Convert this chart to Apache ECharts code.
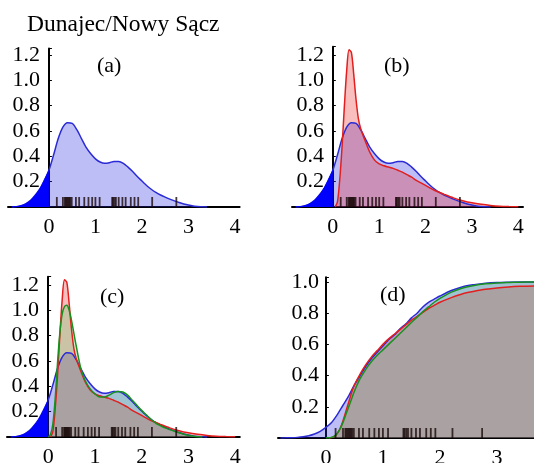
<!DOCTYPE html>
<html>
<head>
<meta charset="utf-8">
<script src="https://cdn.jsdelivr.net/npm/echarts@6/dist/echarts.min.js"></script>
<style>
html, body { margin: 0; padding: 0; background: #fff; }
#main { width: 534px; height: 463px; }
</style>
</head>
<body>
<div id="main"></div>
<script>
// observed values (rug under every panel)
var rugValues = [0.17, 0.30, 0.34, 0.36, 0.38, 0.40, 0.42, 0.44, 0.46, 0.49, 0.58, 0.65, 0.76, 0.85, 0.93,
    1.00, 1.09, 1.36, 1.38, 1.41, 1.44, 1.50, 1.58, 1.65, 1.76, 1.84, 1.92, 2.22, 2.74];

// blue density (kernel estimate)
var blueX = [-0.8, -0.7, -0.6, -0.5, -0.4, -0.3, -0.2, -0.1, 0, 0.1, 0.2, 0.3, 0.4, 0.5, 0.6, 0.7, 0.8, 0.9, 1.0,
    1.1, 1.2, 1.3, 1.4, 1.5, 1.6, 1.7, 1.8, 1.9, 2.0, 2.1, 2.2, 2.3, 2.4, 2.5, 2.6, 2.7, 2.8, 2.9, 3.0, 3.1, 3.2, 3.3, 3.4];
var blueY = [0, 0.003, 0.01, 0.025, 0.05, 0.09, 0.14, 0.21, 0.29, 0.41, 0.54, 0.63, 0.665, 0.66, 0.61, 0.54, 0.47, 0.42, 0.38,
    0.355, 0.345, 0.35, 0.36, 0.36, 0.345, 0.315, 0.28, 0.24, 0.205, 0.17, 0.14, 0.115, 0.095, 0.078, 0.062, 0.048, 0.035, 0.024, 0.015, 0.008, 0.004, 0.001, 0];

// red density
var redX = [0.05, 0.1, 0.15, 0.2, 0.25, 0.3, 0.35, 0.4, 0.45, 0.5, 0.55, 0.6, 0.7, 0.8, 0.9, 1.0, 1.1, 1.2, 1.3, 1.4,
    1.5, 1.6, 1.7, 1.8, 1.9, 2.0, 2.2, 2.4, 2.6, 2.8, 3.0, 3.2, 3.4, 3.6, 3.8, 4.0];
var redY = [0, 0.04, 0.22, 0.48, 0.8, 1.08, 1.24, 1.22, 1.05, 0.85, 0.7, 0.62, 0.52, 0.43, 0.37, 0.34, 0.325, 0.315, 0.305, 0.29,
    0.275, 0.255, 0.235, 0.21, 0.19, 0.17, 0.13, 0.1, 0.072, 0.05, 0.033, 0.021, 0.012, 0.006, 0.003, 0.001];

// green density
var greenX = [0, 0.05, 0.1, 0.15, 0.2, 0.25, 0.3, 0.35, 0.4, 0.45, 0.5, 0.6, 0.7, 0.8, 0.9, 1.0, 1.1, 1.2, 1.3, 1.4,
    1.5, 1.6, 1.7, 1.8, 1.9, 2.0, 2.1, 2.2, 2.3, 2.4, 2.5, 2.6, 2.7, 2.8, 2.9, 3.0, 3.1, 3.2, 3.3];
var greenY = [0, 0.02, 0.1, 0.3, 0.58, 0.82, 0.97, 1.03, 1.04, 1.0, 0.92, 0.72, 0.54, 0.44, 0.38, 0.34, 0.315, 0.315, 0.33, 0.35,
    0.36, 0.355, 0.33, 0.29, 0.25, 0.21, 0.175, 0.14, 0.11, 0.09, 0.072, 0.058, 0.045, 0.033, 0.022, 0.013, 0.006, 0.002, 0];

// cumulative curves for panel (d)
var blueCdfX = [-0.8, -0.7, -0.6, -0.5, -0.4, -0.3, -0.2, -0.1, 0, 0.1, 0.2, 0.3, 0.4, 0.5, 0.6, 0.7, 0.8, 0.9, 1.0,
    1.1, 1.2, 1.3, 1.4, 1.5, 1.6, 1.7, 1.8, 1.9, 2.0, 2.2, 2.4, 2.6, 2.8, 3.0, 3.2, 3.4, 3.65];
var blueCdfY = [0, 0.001, 0.002, 0.004, 0.008, 0.015, 0.026, 0.043, 0.068, 0.1, 0.15, 0.21, 0.27, 0.34, 0.4, 0.46, 0.51, 0.55, 0.59,
    0.63, 0.66, 0.7, 0.73, 0.77, 0.8, 0.84, 0.87, 0.89, 0.91, 0.945, 0.97, 0.983, 0.992, 0.997, 0.999, 1.0, 1.0];
var redCdfX = [0.05, 0.1, 0.15, 0.2, 0.25, 0.3, 0.35, 0.4, 0.45, 0.5, 0.6, 0.7, 0.8, 0.9, 1.0, 1.1, 1.2, 1.3, 1.4,
    1.5, 1.6, 1.7, 1.8, 1.9, 2.0, 2.2, 2.4, 2.6, 2.8, 3.0, 3.2, 3.4, 3.65];
var redCdfY = [0, 0.003, 0.01, 0.03, 0.06, 0.11, 0.17, 0.23, 0.29, 0.34, 0.41, 0.47, 0.52, 0.56, 0.6, 0.635, 0.665, 0.695, 0.725,
    0.755, 0.78, 0.805, 0.83, 0.85, 0.87, 0.9, 0.925, 0.94, 0.953, 0.962, 0.968, 0.972, 0.975];
var greenCdfX = [0, 0.05, 0.1, 0.15, 0.2, 0.25, 0.3, 0.35, 0.4, 0.45, 0.5, 0.6, 0.7, 0.8, 0.9, 1.0, 1.1, 1.2, 1.3, 1.4,
    1.5, 1.6, 1.7, 1.8, 1.9, 2.0, 2.2, 2.4, 2.6, 2.8, 3.0, 3.2, 3.4, 3.65];
var greenCdfY = [0, 0.001, 0.004, 0.012, 0.03, 0.06, 0.1, 0.15, 0.2, 0.25, 0.3, 0.38, 0.44, 0.49, 0.53, 0.565, 0.6, 0.635, 0.67, 0.705,
    0.74, 0.775, 0.81, 0.84, 0.87, 0.895, 0.935, 0.962, 0.978, 0.988, 0.994, 0.997, 0.999, 1.0];

var panelLabels = ['(a)', '(b)', '(c)', '(d)'];
var titleText = 'Dunajec/Nowy Sącz';

var FONT = "'Liberation Serif', 'Times New Roman', 'DejaVu Serif', serif";
var BLUE = '#2b2bd6', RED = '#e31e1e', GREEN = '#17921e';
var BLUE_FILL = 'rgba(40,40,230,0.3)', RED_FILL = 'rgba(235,40,40,0.3)', GREEN_FILL = 'rgba(68,213,97,0.25)';

function zip(xs, ys) {
    return xs.map(function (x, i) { return [x, ys[i]]; });
}

function curve(idx, name, xs, ys, color, fill) {
    return {
        name: name, type: 'line', xAxisIndex: idx, yAxisIndex: idx,
        data: zip(xs, ys), smooth: 0.3, symbol: 'none',
        lineStyle: { color: color, width: 1.5 },
        areaStyle: { color: fill, opacity: 1 },
        z: 2
    };
}

// solid blue part of the blue curve left of zero
function negTail(idx) {
    var pts = zip(blueX, blueY).filter(function (p) { return p[0] <= 0; });
    return {
        type: 'line', xAxisIndex: idx, yAxisIndex: idx, data: pts, smooth: 0.3, symbol: 'none',
        lineStyle: { color: '#0000ff', width: 1 },
        areaStyle: { color: '#0000ff', opacity: 1 }, z: 3
    };
}

function rug(idx) {
    return {
        type: 'scatter', xAxisIndex: idx, yAxisIndex: idx,
        data: rugValues.map(function (v) { return [v, 0]; }),
        symbol: 'rect', symbolSize: [1.8, 10], symbolOffset: [0, -5],
        itemStyle: { color: '#1a0a0a' }, z: 4, silent: true
    };
}

function xAx(idx, min, max) {
    return {
        type: 'value', gridIndex: idx, min: min, max: max,
        axisLine: { lineStyle: { color: '#000', width: 2 } },
        axisTick: { show: false }, splitLine: { show: false },
        axisLabel: {
            margin: 9, color: '#000', fontFamily: FONT, fontSize: 22, hideOverlap: false,
            showMinLabel: true, showMaxLabel: true,
            formatter: function (v) { return Math.abs(v - Math.round(v)) < 1e-6 && v >= 0 ? String(Math.round(v)) : ''; }
        }
    };
}

// labels sit next to the line at x = 0, so margin is measured back from the grid's left edge
function yAx(idx, max, margin) {
    return {
        type: 'value', gridIndex: idx, min: 0, max: max, interval: 0.2,
        axisLine: { onZero: true, lineStyle: { color: '#000', width: 2 } },
        axisTick: { inside: true, length: 3, lineStyle: { color: '#000' } },
        splitLine: { show: false },
        axisLabel: {
            margin: margin, color: '#000', fontFamily: FONT, fontSize: 22, hideOverlap: false,
            formatter: function (v) {
                return v > 0 && Math.abs(v * 5 - Math.round(v * 5)) < 1e-6 ? v.toFixed(1) : '';
            }
        }
    };
}

var myChart = echarts.init(document.getElementById('main'));

var titleStyle = { fontFamily: FONT, fontWeight: 'normal', fontSize: 22, color: '#000' };

var option = {
    animation: false,
    backgroundColor: '#fff',
    title: [
        { text: titleText, left: 27, top: 13, padding: 0, textStyle: { fontFamily: FONT, fontWeight: 'normal', fontSize: 23.5, color: '#000' } },
        { text: panelLabels[0], left: 97, top: 55, padding: 0, textStyle: titleStyle },
        { text: panelLabels[1], left: 384, top: 55, padding: 0, textStyle: titleStyle },
        { text: panelLabels[2], left: 100, top: 286, padding: 0, textStyle: titleStyle },
        { text: panelLabels[3], left: 380, top: 284, padding: 0, textStyle: titleStyle }
    ],
    grid: [
        { left: 8, top: 48.6, width: 231.6, height: 158.4, containLabel: false, outerBoundsMode: 'none' },
        { left: 292, top: 46.7, width: 231, height: 160.3, containLabel: false, outerBoundsMode: 'none' },
        { left: 7, top: 276.7, width: 232.8, height: 160.3, containLabel: false, outerBoundsMode: 'none' },
        { left: 278, top: 277.3, width: 256, height: 160.7, containLabel: false, outerBoundsMode: 'none' }
    ],
    xAxis: [xAx(0, -0.88, 4.1), xAx(1, -0.88, 4.1), xAx(2, -0.88, 4.1), xAx(3, -0.84, 3.65)],
    yAxis: [yAx(0, 1.25, -32), yAx(1, 1.265, -32), yAx(2, 1.265, -32), yAx(3, 1.03, -41)],
    series: [
        // (a)
        curve(0, 'blue', blueX, blueY, BLUE, BLUE_FILL),
        negTail(0), rug(0),
        // (b)
        curve(1, 'blue', blueX, blueY, BLUE, BLUE_FILL),
        curve(1, 'red', redX, redY, RED, RED_FILL),
        negTail(1), rug(1),
        // (c)
        curve(2, 'blue', blueX, blueY, BLUE, BLUE_FILL),
        curve(2, 'red', redX, redY, RED, RED_FILL),
        curve(2, 'green', greenX, greenY, GREEN, GREEN_FILL),
        negTail(2), rug(2),
        // (d)
        curve(3, 'blue', blueCdfX, blueCdfY, BLUE, BLUE_FILL),
        curve(3, 'red', redCdfX, redCdfY, RED, RED_FILL),
        curve(3, 'green', greenCdfX, greenCdfY, GREEN, GREEN_FILL),
        rug(3)
    ]
};
myChart.setOption(option);
</script>
</body>
</html>
